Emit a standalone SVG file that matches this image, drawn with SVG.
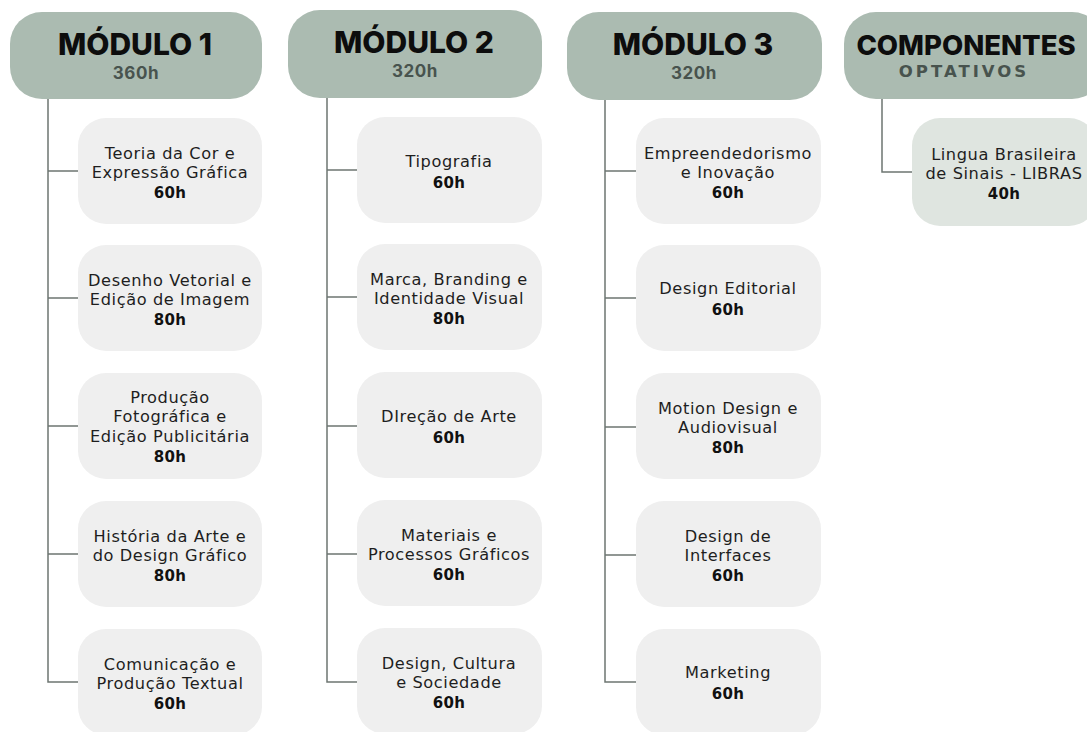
<svg xmlns="http://www.w3.org/2000/svg" width="1087" height="732" viewBox="0 0 1087 732">
<style>
.hdr{fill:#abbbb1}
.box{fill:#efefef}
.opt{fill:#dfe5e0}
.ttl{font-family:Inter,"Noto Sans",sans-serif;font-weight:800;font-size:30px;fill:#0d0d0d;text-anchor:middle}
.sub{font-family:Inter,"Noto Sans",sans-serif;font-weight:700;font-size:17px;fill:#48534e;text-anchor:middle;letter-spacing:0.6px}
.sub2{font-family:"DejaVu Sans",sans-serif;font-weight:700;font-size:16.5px;fill:#48534e;text-anchor:middle;letter-spacing:3px}
.t{font-family:"DejaVu Sans",sans-serif;font-size:16.2px;fill:#1e1e1e;text-anchor:middle;letter-spacing:0.6px}
.h{font-weight:700;font-size:15px;fill:#111;letter-spacing:0.3px}
.ln{fill:none;stroke:#6d7672;stroke-width:1.5}
</style>
<rect width="1087" height="732" fill="#ffffff"/>
<g id="connectors">
<path class="ln" d="M48 99V682H78M48 171H78M48 298H78M48 426H78M48 554H78"/>
<path class="ln" d="M327 98V682H357M327 170H357M327 297H357M327 426H357M327 554H357"/>
<path class="ln" d="M605 100V682H636M605 171H636M605 298H636M605 427H636M605 555H636"/>
<path class="ln" d="M882 99V172H912"/>
</g>
<g id="modulo1"><rect class="hdr" x="10" y="12" width="252" height="87" rx="32"/><text class="ttl" x="135" y="55">MÓDULO 1</text><text class="sub" x="136" y="79">360h</text></g>
<g id="modulo2"><rect class="hdr" x="288" y="10" width="254" height="88" rx="32"/><text class="ttl" x="414" y="53">MÓDULO 2</text><text class="sub" x="415" y="77">320h</text></g>
<g id="modulo3"><rect class="hdr" x="567" y="12" width="255" height="88" rx="32"/><text class="ttl" x="693" y="55">MÓDULO 3</text><text class="sub" x="694" y="79">320h</text></g>
<g id="componentes"><rect class="hdr" x="844" y="12" width="260" height="87" rx="32"/><text class="ttl" x="966" y="55" style="font-size:27.5px">COMPONENTES</text><text class="sub2" x="964" y="77">OPTATIVOS</text></g>

<g id="m1b1"><rect class="box" x="78" y="118" width="184" height="106" rx="28"/><text class="t"><tspan x="170" y="159">Teoria da Cor e</tspan><tspan x="170" y="178">Expressão Gráfica</tspan><tspan class="h" x="170" y="198">60h</tspan></text></g>
<g id="m1b2"><rect class="box" x="78" y="245" width="184" height="106" rx="28"/><text class="t"><tspan x="170" y="286">Desenho Vetorial e</tspan><tspan x="170" y="305">Edição de Imagem</tspan><tspan class="h" x="170" y="325">80h</tspan></text></g>
<g id="m1b3"><rect class="box" x="78" y="373" width="184" height="106" rx="28"/><text class="t"><tspan x="170" y="403">Produção</tspan><tspan x="170" y="422">Fotográfica e</tspan><tspan x="170" y="442">Edição Publicitária</tspan><tspan class="h" x="170" y="462">80h</tspan></text></g>
<g id="m1b4"><rect class="box" x="78" y="501" width="184" height="106" rx="28"/><text class="t"><tspan x="170" y="542">História da Arte e</tspan><tspan x="170" y="561">do Design Gráfico</tspan><tspan class="h" x="170" y="581">80h</tspan></text></g>
<g id="m1b5"><rect class="box" x="78" y="629" width="184" height="106" rx="28"/><text class="t"><tspan x="170" y="670">Comunicação e</tspan><tspan x="170" y="689">Produção Textual</tspan><tspan class="h" x="170" y="709">60h</tspan></text></g>

<g id="m2b1"><rect class="box" x="357" y="117" width="185" height="106" rx="28"/><text class="t"><tspan x="449" y="167">Tipografia</tspan><tspan class="h" x="449" y="188">60h</tspan></text></g>
<g id="m2b2"><rect class="box" x="357" y="244" width="185" height="106" rx="28"/><text class="t"><tspan x="449" y="285">Marca, Branding e</tspan><tspan x="449" y="304">Identidade Visual</tspan><tspan class="h" x="449" y="324">80h</tspan></text></g>
<g id="m2b3"><rect class="box" x="357" y="372" width="185" height="106" rx="28"/><text class="t"><tspan x="449" y="422">DIreção de Arte</tspan><tspan class="h" x="449" y="443">60h</tspan></text></g>
<g id="m2b4"><rect class="box" x="357" y="500" width="185" height="106" rx="28"/><text class="t"><tspan x="449" y="541">Materiais e</tspan><tspan x="449" y="560">Processos Gráficos</tspan><tspan class="h" x="449" y="580">60h</tspan></text></g>
<g id="m2b5"><rect class="box" x="357" y="628" width="185" height="106" rx="28"/><text class="t"><tspan x="449" y="669">Design,  Cultura</tspan><tspan x="449" y="688">e Sociedade</tspan><tspan class="h" x="449" y="708">60h</tspan></text></g>

<g id="m3b1"><rect class="box" x="636" y="118" width="185" height="106" rx="28"/><text class="t"><tspan x="728" y="159">Empreendedorismo</tspan><tspan x="728" y="178">e Inovação</tspan><tspan class="h" x="728" y="198">60h</tspan></text></g>
<g id="m3b2"><rect class="box" x="636" y="245" width="185" height="106" rx="28"/><text class="t"><tspan x="728" y="294">Design Editorial</tspan><tspan class="h" x="728" y="315">60h</tspan></text></g>
<g id="m3b3"><rect class="box" x="636" y="373" width="185" height="106" rx="28"/><text class="t"><tspan x="728" y="414">Motion Design e</tspan><tspan x="728" y="433">Audiovisual</tspan><tspan class="h" x="728" y="453">80h</tspan></text></g>
<g id="m3b4"><rect class="box" x="636" y="501" width="185" height="106" rx="28"/><text class="t"><tspan x="728" y="542">Design de</tspan><tspan x="728" y="561">Interfaces</tspan><tspan class="h" x="728" y="581">60h</tspan></text></g>
<g id="m3b5"><rect class="box" x="636" y="629" width="185" height="106" rx="28"/><text class="t"><tspan x="728" y="678">Marketing</tspan><tspan class="h" x="728" y="699">60h</tspan></text></g>

<g id="libras"><rect class="opt" x="912" y="118" width="185" height="108" rx="28"/><text class="t"><tspan x="1004" y="160">Lingua Brasileira</tspan><tspan x="1004" y="179">de Sinais - LIBRAS</tspan><tspan class="h" x="1004" y="199">40h</tspan></text></g>
</svg>
